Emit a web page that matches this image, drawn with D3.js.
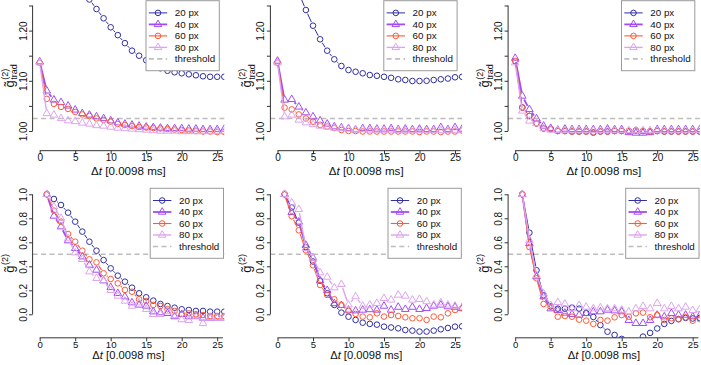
<!DOCTYPE html>
<html><head><meta charset="utf-8">
<script src="https://cdn.jsdelivr.net/npm/d3@7"></script>
<style>body{margin:0;background:#fff} svg{display:block}</style>
</head><body>
<svg id="c" width="701" height="365"></svg>
<script>
// ---------------- data ----------------
const seriesNames = ["20 px", "40 px", "60 px", "80 px"];
const lagTop = [0,1,2,3,4,5,6,7,8,9,10,11,12,13,14,15,16,17,18,19,20,21,22,23,24,25,26];
const lagBottom = [1,2,3,4,5,6,7,8,9,10,11,12,13,14,15,16,17,18,19,20,21,22,23,24,25,26];
const xTicks = [0, 5, 10, 15, 20, 25];
const yTicksTop = [1.00, 1.05, 1.10, 1.15, 1.20, 1.25];
const yLabelsTop = [1.00, 1.10, 1.20];
const yTicksBottom = [0.0, 0.2, 0.4, 0.6, 0.8, 1.0];
const thresholdTop = 1.025;
const thresholdBottom = 0.5;

// top-left
const p1_20 = [1.50,1.45,1.40,1.36,1.33,1.305,1.283,1.262,1.243,1.2245,1.2066,1.191,1.175,1.160,1.150,1.141,1.132,1.125,1.120,1.117,1.115,1.113,1.111,1.109,1.108,1.108,1.108];
const p1_40 = [1.138,1.080,1.062,1.057,1.050,1.042,1.035,1.032,1.0285,1.025,1.0205,1.0166,1.014,1.012,1.010,1.008,1.007,1.006,1.005,1.005,1.005,1.004,1.004,1.003,1.003,1.003,1.004];
const p1_60 = [1.136,1.064,1.054,1.048,1.044,1.038,1.033,1.030,1.025,1.022,1.0185,1.014,1.012,1.010,1.008,1.007,1.006,1.005,1.004,1.003,1.002,1.001,1.000,0.999,0.999,0.998,0.998];
const p1_80 = [1.136,1.035,1.032,1.025,1.0205,1.019,1.016,1.014,1.011,1.010,1.008,1.006,1.005,1.004,1.003,1.002,1.001,1.000,1.000,1.000,0.999,0.999,0.999,0.999,0.999,0.999,0.999];
// top-middle
const p2_20 = [1.45,1.39,1.33,1.275,1.241,1.2098,1.1827,1.160,1.1428,1.1295,1.1215,1.118,1.115,1.1115,1.110,1.108,1.106,1.103,1.1016,1.0996,1.0996,1.100,1.1016,1.103,1.1045,1.107,1.108];
const p2_40 = [1.1394,1.0618,1.063,1.048,1.0365,1.0285,1.0205,1.014,1.0086,1.0066,1.005,1.0026,1.005,1.005,1.004,1.004,1.005,1.003,1.004,1.003,1.004,1.003,1.003,1.007,1.003,1.007,1.004];
const p2_60 = [1.136,1.0465,1.043,1.033,1.025,1.0185,1.012,1.009,1.006,1.002,1.000,1.000,0.999,0.999,0.999,0.999,0.999,0.999,0.999,0.999,0.998,0.999,0.999,0.998,0.999,0.999,1.001];
const p2_80 = [1.136,1.0285,1.032,1.022,1.0166,1.013,1.010,1.008,1.006,1.005,1.004,1.003,1.003,1.002,1.002,1.002,1.002,1.001,1.001,1.001,1.001,1.001,1.001,1.001,1.001,1.001,1.001];
// top-right
const p3_20 = [1.139,1.047,1.030,1.015,1.005,1.004,1.000,1.000,0.999,0.999,0.999,0.997,0.999,0.999,1.000,1.000,1.000,1.001,1.000,0.999,1.000,0.999,0.999,0.999,0.999,0.999,0.999];
const p3_40 = [1.145,1.0697,1.043,1.0245,1.010,1.0054,1.002,1.004,1.003,1.003,1.003,1.003,1.003,1.004,1.003,1.003,0.997,0.996,0.996,0.997,1.003,1.003,1.003,1.003,1.003,1.003,1.003];
const p3_60 = [1.1394,1.0465,1.030,1.0153,1.0054,1.004,1.000,1.000,0.999,0.999,0.999,0.997,0.999,0.999,1.000,1.000,1.000,1.001,1.000,0.999,1.000,0.999,0.999,0.999,0.999,0.999,0.999];
const p3_80 = [1.136,1.040,1.020,1.015,1.005,1.002,1.001,1.001,1.001,1.001,1.001,1.001,1.001,1.001,1.001,1.001,1.001,1.001,1.001,1.001,1.001,1.001,1.001,1.001,1.001,1.001,1.001];
// bottom-left
const p4_20 = [1.0,0.961,0.911,0.847,0.772,0.689,0.605,0.53,0.452,0.383,0.322,0.272,0.222,0.175,0.142,0.114,0.086,0.069,0.055,0.042,0.036,0.028,0.028,0.022,0.022,0.022];
const p4_40 = [1.0,0.819,0.73,0.614,0.55,0.48,0.411,0.369,0.28,0.225,0.175,0.147,0.097,0.078,0.069,0.022,0.014,0.008,-0.019,0.0,-0.019,-0.014,-0.03,-0.03,-0.03,-0.03];
const p4_60 = [1.0,0.864,0.772,0.669,0.605,0.53,0.458,0.433,0.342,0.294,0.258,0.203,0.188,0.125,0.111,0.078,0.069,0.042,0.028,0.003,0.008,0.0,-0.006,-0.014,-0.014,-0.014];
const p4_80 = [1.0,0.897,0.80,0.63,0.513,0.458,0.355,0.30,0.28,0.20,0.153,0.111,0.069,0.097,0.042,0.0,0.0,0.022,-0.01,-0.044,-0.05,-0.02,-0.075,-0.025,-0.03,-0.03];
// bottom-middle
const p5_20 = [1.0,0.89,0.764,0.56,0.44,0.28,0.175,0.078,0.014,-0.02,-0.047,-0.07,-0.08,-0.086,-0.103,-0.11,-0.117,-0.131,-0.136,-0.144,-0.144,-0.136,-0.125,-0.114,-0.103,-0.1];
const p5_40 = [1.0,0.85,0.77,0.575,0.47,0.28,0.20,0.09,0.075,0.036,0.03,0.036,0.04,0.036,0.069,0.036,0.06,0.042,0.06,0.042,0.05,0.069,0.078,0.064,0.06,0.05];
const p5_60 = [1.0,0.817,0.70,0.533,0.408,0.244,0.161,0.125,0.078,0.028,0.003,-0.019,-0.025,0.008,-0.019,-0.006,-0.014,-0.025,-0.033,-0.033,-0.047,-0.019,-0.025,0.008,0.036,0.05];
const p5_80 = [1.0,0.93,0.875,0.55,0.47,0.347,0.31,0.222,0.25,0.078,0.147,0.069,0.078,0.092,0.133,0.12,0.161,0.153,0.12,0.125,0.106,0.078,0.097,0.078,0.069,0.06];
// bottom-right
const p6_20 = [1.0,0.68,0.367,0.158,0.067,0.047,0.047,0.056,0.047,0.011,-0.022,-0.09,-0.145,-0.172,-0.205,-0.25,-0.23,-0.186,-0.155,-0.118,-0.08,-0.055,-0.04,-0.03,-0.035,-0.03];
const p6_40 = [1.0,0.59,0.314,0.147,0.047,0.033,0.011,0.0,-0.006,0.008,0.022,0.022,0.036,0.03,0.022,-0.05,-0.075,-0.075,-0.05,-0.006,-0.02,0.008,-0.006,-0.006,-0.02,-0.01];
const p6_60 = [1.0,0.56,0.30,0.086,0.064,-0.02,-0.014,-0.02,-0.044,-0.053,-0.08,-0.047,-0.053,-0.025,-0.006,-0.02,0.008,0.014,-0.025,-0.006,-0.047,-0.033,-0.042,-0.025,-0.053,-0.04];
const p6_80 = [1.0,0.617,0.325,0.172,0.075,0.10,0.086,0.047,0.075,0.061,0.047,0.056,0.047,0.047,0.036,0.022,0.047,0.067,0.047,0.092,0.047,0.067,0.047,0.061,0.033,0.04];

// ---------------- styles ----------------
const colors = ["#2f2fa6", "#a24cf5", "#ff5a35", "#dea4ee"];
const lineWidths = [1, 1.8, 1.1, 1.4];
const shapes = ["circle", "triangle", "circle", "triangle"];
const FONT = "'Liberation Sans', Arial, Helvetica, sans-serif";

const panels = [
  {row:0, col:0, data:[p1_20,p1_40,p1_60,p1_80]},
  {row:0, col:1, data:[p2_20,p2_40,p2_60,p2_80]},
  {row:0, col:2, data:[p3_20,p3_40,p3_60,p3_80]},
  {row:1, col:0, data:[p4_20,p4_40,p4_60,p4_80]},
  {row:1, col:1, data:[p5_20,p5_40,p5_60,p5_80]},
  {row:1, col:2, data:[p6_20,p6_40,p6_60,p6_80]},
];

// ---------------- layout ----------------
const colZero = [39.7, 277.5, 515.2];
const unit = 7.1;
const rowLayout = [
  {yDomain:[1.0,1.25], yRange:[131,5.5], region:[0.9588,1.2612], axisTop:1.25, axisBot:1.0,
   legendTop:0.7, legendDx:106.3, tickBase:10.6, tickFont:10, titleY:23.2, titleFont:11.6, axisShift:-1},
  {yDomain:[0,1], yRange:[314.3,194.3], region:[-0.196,1.046], axisTop:1.0, axisBot:0.0,
   legendTop:188.3, legendDx:110.5, tickBase:10.0, tickFont:9.6, titleY:21.4, titleFont:11.2, axisShift:0}
];

const svg = d3.select("#c");
const defs = svg.append("defs");

function triPath(R){ const r=1.555*R, xc=1.347*R, yc=0.778*R; return `M0,${-r}L${xc},${yc}L${-xc},${yc}Z`; }
const R = 2.8;

function bLine(pts, gap){
  const p = d3.path();
  for (let i=1;i<pts.length;i++){
    const [x0,y0]=pts[i-1],[x1,y1]=pts[i];
    const dx=x1-x0, dy=y1-y0, f=Math.hypot(dx,dy);
    if (f > 2*gap){ const k=gap/f; p.moveTo(x0+k*dx,y0+k*dy); p.lineTo(x1-k*dx,y1-k*dy); }
  }
  return p.toString();
}

function drawMarker(g, shape, x, y, color){
  if (shape==="circle") g.append("circle").attr("cx",x).attr("cy",y).attr("r",R)
     .attr("fill","none").attr("stroke",color).attr("stroke-width",1);
  else g.append("path").attr("d",triPath(R)).attr("transform",`translate(${x},${y})`)
     .attr("fill","none").attr("stroke",color).attr("stroke-width",1);
}

panels.forEach((p, pi) => {
  const L = rowLayout[p.row];
  const x0 = colZero[p.col];
  const xs = d3.scaleLinear().domain([0,25]).range([x0, x0+25*unit]);
  const ys = d3.scaleLinear().domain(L.yDomain).range(L.yRange);
  const left = xs(-1), right = xs(26), top = ys(L.region[1]), bottom = ys(L.region[0]);
  const lags = p.row===0 ? lagTop : lagBottom;
  const g = svg.append("g");

  const cid = "clip"+pi;
  defs.append("clipPath").attr("id",cid).append("rect")
    .attr("x",left).attr("y",top).attr("width",right-left).attr("height",bottom-top);

  const thr = p.row===0 ? thresholdTop : thresholdBottom;
  g.append("line").attr("x1",left).attr("x2",right).attr("y1",ys(thr)).attr("y2",ys(thr))
    .attr("stroke","#bdbdbd").attr("stroke-width",1.4).attr("stroke-dasharray","5,3.5");

  const plot = g.append("g").attr("clip-path",`url(#${cid})`);
  p.data.forEach((vals, si) => {
    const pts = vals.map((v,i)=>[xs(lags[i]), ys(v)]);
    plot.append("path").attr("d", bLine(pts, 4)).attr("fill","none")
      .attr("stroke",colors[si]).attr("stroke-width",lineWidths[si]);
    pts.forEach(([x,y]) => drawMarker(plot, shapes[si], x, y, colors[si]));
  });

  // x axis
  const axY = bottom + L.axisShift;
  const ax = g.append("g").attr("transform",`translate(0,${axY})`);
  ax.append("line").attr("x1",xs(0)).attr("x2",xs(25.8)).attr("stroke","#333").attr("stroke-width",1);
  ax.call(d3.axisBottom(xs).tickValues(xTicks).tickSize(3.5).tickFormat(d3.format("d")));
  ax.select(".domain").remove();
  ax.selectAll(".tick line").attr("stroke","#333");
  ax.selectAll(".tick text").attr("y",L.tickBase).attr("dy",null)
    .attr("font-family",FONT).attr("font-size",L.tickFont).attr("fill","#111");
  // x title
  const xt = g.append("text").attr("x",(left+right)/2).attr("y",bottom+L.titleY)
    .attr("text-anchor","middle").attr("font-family",FONT).attr("font-size",L.titleFont).attr("fill","#111");
  xt.append("tspan").text("\u0394");
  xt.append("tspan").attr("font-style","italic").text("t");
  xt.append("tspan").text(" [0.0098 ms]");

  // y axis
  const yTicks = p.row===0 ? yTicksTop : yTicksBottom;
  const ay = g.append("g").attr("transform",`translate(${left},0)`);
  ay.append("line").attr("y1",ys(L.axisBot)).attr("y2",ys(L.axisTop)).attr("stroke","#333");
  ay.call(d3.axisLeft(ys).tickValues(yTicks).tickSize(3.5)
    .tickFormat(d => p.row===0 ? (yLabelsTop.some(v=>Math.abs(v-d)<1e-9) ? d3.format(".2f")(d) : "") : d3.format(".1f")(d)));
  ay.select(".domain").remove();
  ay.selectAll(".tick line").attr("stroke","#333");
  ay.selectAll(".tick text").attr("x",0).attr("dy",null).attr("text-anchor","middle")
    .attr("transform","translate(-6,0) rotate(-90)")
    .attr("font-family",FONT).attr("font-size",10).attr("fill","#111");

  // y title
  const cy = (top+bottom)/2;
  const yt = g.append("g").attr("transform",`translate(${left-19},${cy}) rotate(-90)`);
  const gt = yt.append("text").attr("font-family",FONT).attr("font-size",13).attr("fill","#111").text("g\u0303");
  const w = gt.node().getComputedTextLength();
  const sup = yt.append("text").attr("x",w+0.5).attr("y",-6).attr("font-family",FONT).attr("font-size",9).attr("fill","#111").text("(2)");
  let w2 = sup.node().getComputedTextLength();
  if (p.row===0){
    const sub = yt.append("text").attr("x",w+0.5).attr("y",3.5).attr("font-family",FONT).attr("font-size",9).attr("fill","#111").text("trad");
    w2 = Math.max(w2, sub.node().getComputedTextLength());
  }
  const tot = w + 0.5 + w2;
  yt.selectAll("text").attr("transform",`translate(${-tot/2},0)`);

  // legend
  const lx = x0 + L.legendDx, ly = L.legendTop, lw = 73.3, lh = 70;
  const lg = g.append("g");
  lg.append("rect").attr("x",lx).attr("y",ly).attr("width",lw).attr("height",lh)
    .attr("fill","#fff").attr("stroke","#9a9a9a").attr("stroke-width",1);
  const items = seriesNames.concat(["threshold"]);
  items.forEach((name, i) => {
    const yy = ly + 12.2 + 11.5*i;
    if (i < 4){
      lg.append("line").attr("x1",lx+2.8).attr("x2",lx+21.2).attr("y1",yy).attr("y2",yy)
        .attr("stroke",colors[i]).attr("stroke-width",lineWidths[i]);
      drawMarker(lg, shapes[i], lx+12, yy, colors[i]);
    } else {
      lg.append("line").attr("x1",lx+2.8).attr("x2",lx+21.2).attr("y1",yy).attr("y2",yy)
        .attr("stroke","#bdbdbd").attr("stroke-width",1.6).attr("stroke-dasharray","5,3.5");
    }
    lg.append("text").attr("x",lx+28.8).attr("y",yy).attr("dy","0.35em")
      .attr("font-family",FONT).attr("font-size",9.8).attr("fill","#111").text(name);
  });
});
</script>
</body></html>
